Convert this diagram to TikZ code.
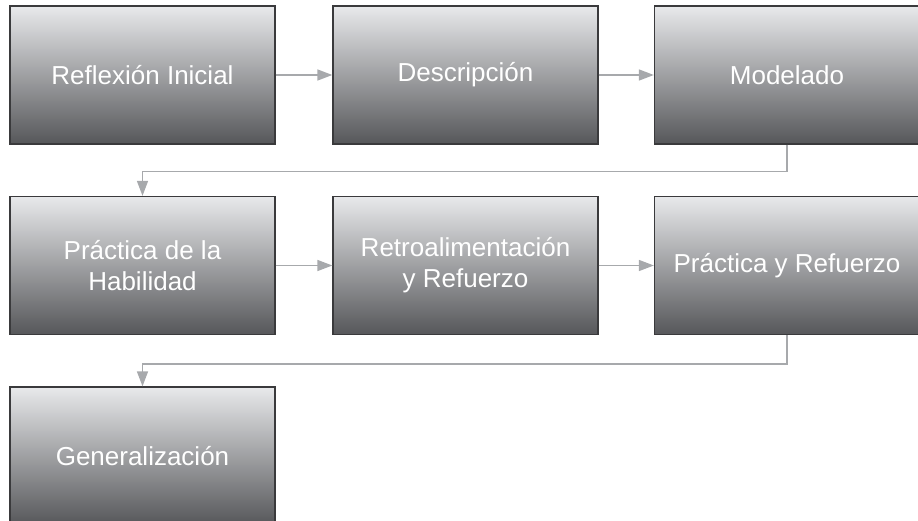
\documentclass[tikz,border=0pt]{standalone}
\usepackage{fontspec}
\setmainfont{Liberation Sans}
\usetikzlibrary{arrows.meta}

\definecolor{boxtop}{HTML}{E8E9EB}
\definecolor{boxbottom}{HTML}{56575A}
\definecolor{boxline}{HTML}{3A3A3C}
\definecolor{linkgray}{HTML}{A7A9AC}

\begin{document}
\begin{tikzpicture}[x=1pt, y=-1pt,
    stage/.style={rectangle, draw=boxline, line width=1.3pt,
        top color=boxtop, bottom color=boxbottom,
        minimum width=265pt, minimum height=138pt, inner sep=0pt,
        text=white, align=center, font=\fontsize{26}{31}\selectfont},
    link/.style={draw=linkgray, line width=1.5pt,
        -{Triangle[length=15pt, width=11pt]}}]

% Frame
\useasboundingbox (0,0) rectangle (918,521);
\clip (0,0) rectangle (918,521);

% First row
\node[stage] (reflexion) at (142.5,75) {Reflexión Inicial};
\node[stage] (descripcion) at (465.5,75) {Descripción};
\node[stage] (modelado) at (787,75) {Modelado};

% Second row
\node[stage] (practica) at (142.5,265.5) {Práctica de la\\Habilidad};
\node[stage] (retro) at (465.5,265.5) {Retroalimentación\\y Refuerzo};
\node[stage] (refuerzo) at (787,265.5) {Práctica y Refuerzo};

% Third row
\node[stage] (general) at (142.5,456) {Generalización};

% Links within rows
\draw[link] (reflexion) -- (descripcion);
\draw[link] (descripcion) -- (modelado);
\draw[link] (practica) -- (retro);
\draw[link] (retro) -- (refuerzo);

% Links between rows
\draw[link] (modelado.south) -- ++(0,27) -| (practica.north);
\draw[link] (refuerzo.south) -- ++(0,29) -| (general.north);

\end{tikzpicture}
\end{document}
